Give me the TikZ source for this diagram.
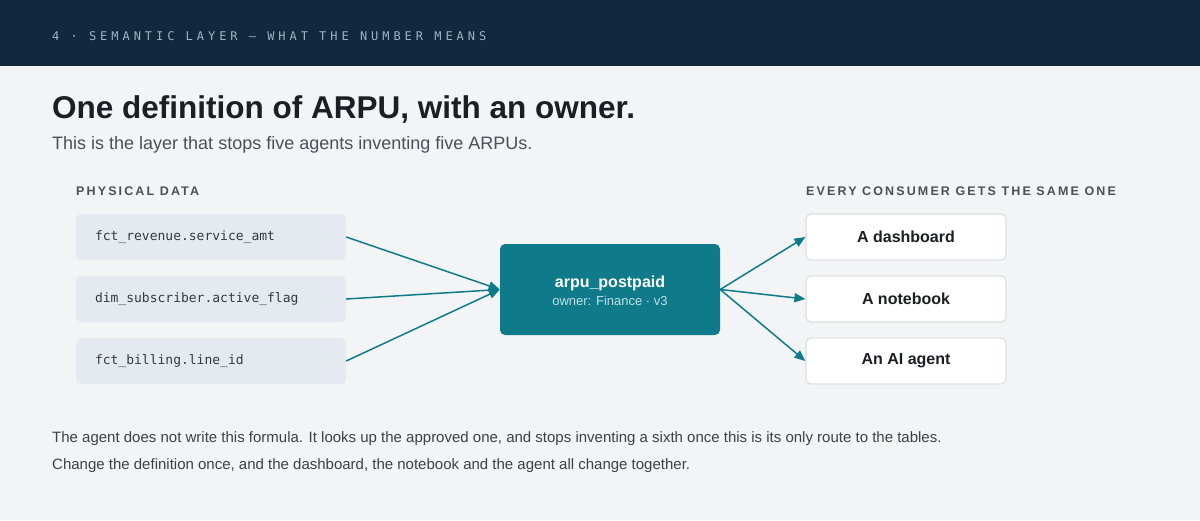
\documentclass[tikz,border=0pt]{standalone}
\usepackage{fontspec}
\setmainfont{Liberation Sans}
\newfontfamily\monofont{DejaVu Sans Mono}
\newfontfamily\hdrfont[LetterSpace=33]{DejaVu Sans Mono}
\newfontfamily\capsfont[LetterSpace=17]{Liberation Sans}
\usetikzlibrary{arrows.meta,positioning}
\definecolor{pagebg}{HTML}{F3F4F6}
\definecolor{navy}{HTML}{10293F}
\definecolor{hdrtext}{HTML}{9FB3C4}
\definecolor{ink}{HTML}{1B1E22}
\definecolor{subink}{HTML}{4B5058}
\definecolor{tablefill}{HTML}{E5EAF1}
\definecolor{monoink}{HTML}{333A42}
\definecolor{teal}{HTML}{0F7B8A}
\definecolor{ownerink}{HTML}{BFE0E5}
\definecolor{cardline}{HTML}{DCE0E5}
\definecolor{bodyink}{HTML}{3C4147}
\tikzset{
  tablebox/.style={fill=tablefill, rounded corners=5pt, minimum height=46pt,
    text width=232pt, inner xsep=19pt, align=left, font=\monofont\fontsize{13}{15}\selectfont, text=monoink},
  metricbox/.style={fill=teal, rounded corners=5pt, minimum width=220pt, minimum height=91pt, align=center},
  consumerbox/.style={fill=white, draw=cardline, line width=1.2pt, rounded corners=5pt,
    minimum width=200pt, minimum height=46pt, font=\bfseries\fontsize{16}{19}\selectfont, text=ink},
  feed/.style={draw=teal, line width=1.5pt, -{Triangle[length=11pt,width=9pt]}},
  caps/.style={anchor=base west, inner sep=0pt, font=\capsfont\bfseries\fontsize{12.5}{14}\selectfont, text=subink},
  bodyline/.style={anchor=base west, inner sep=0pt, font=\fontsize{15}{18}\selectfont, text=bodyink}
}
\begin{document}
\begin{tikzpicture}[x=1pt, y=-1pt]
    \useasboundingbox (0,0) rectangle (1200,520);
    \fill [pagebg] (0,0) rectangle (1200,520);
    \fill [navy] (0,0) rectangle (1200,66);
    \node [anchor=base west, inner sep=0pt, text=hdrtext, font=\hdrfont\fontsize{12}{14}\selectfont] (header) at (52,40) {4 · SEMANTIC LAYER — WHAT THE NUMBER MEANS};
    \node [anchor=base west, inner sep=0pt, text=ink, font=\bfseries\fontsize{31.5}{36}\selectfont] (title) at (52,118) {One definition of ARPU, with an owner.};
    \node [anchor=base west, inner sep=0pt, text=subink, font=\fontsize{18}{21}\selectfont] (subtitle) at (52,149) {This is the layer that stops five agents inventing five ARPUs.};
    \node [caps] (physlabel) at (76,195.5) {PHYSICAL DATA};
    \node [caps] (conslabel) at (806,195.5) {EVERY CONSUMER GETS THE SAME ONE};
    \node [tablebox] (revenue) at (211,237) {fct\_revenue.service\_amt};
    \node [tablebox] (subscriber) at (211,299) {dim\_subscriber.active\_flag};
    \node [tablebox] (billing) at (211,361) {fct\_billing.line\_id};
    \node [metricbox] (arpu) at (610,289.5) {};
    \node [text=white, font=\bfseries\fontsize{16}{19}\selectfont] (arpuname) at (610,283) {arpu\_postpaid};
    \node [text=ownerink, font=\fontsize{13}{15}\selectfont] (arpuowner) at (610,301) {owner: Finance · v3};
    \node [consumerbox] (dashboard) at (906,237) {A dashboard};
    \node [consumerbox] (notebook) at (906,299) {A notebook};
    \node [consumerbox] (agent) at (906,361) {An AI agent};
    \draw [feed] (revenue.east) -- (arpu.west);
    \draw [feed] (subscriber.east) -- (arpu.west);
    \draw [feed] (billing.east) -- (arpu.west);
    \draw [feed] (arpu.east) -- (dashboard.west);
    \draw [feed] (arpu.east) -- (notebook.west);
    \draw [feed] (arpu.east) -- (agent.west);
    \node [bodyline] (noteone) at (52,442) {The agent does not write this formula. It looks up the approved one, and stops inventing a sixth once this is its only route to the tables.};
    \node [bodyline] (notetwo) at (52,469) {Change the definition once, and the dashboard, the notebook and the agent all change together.};
\end{tikzpicture}
\end{document}
